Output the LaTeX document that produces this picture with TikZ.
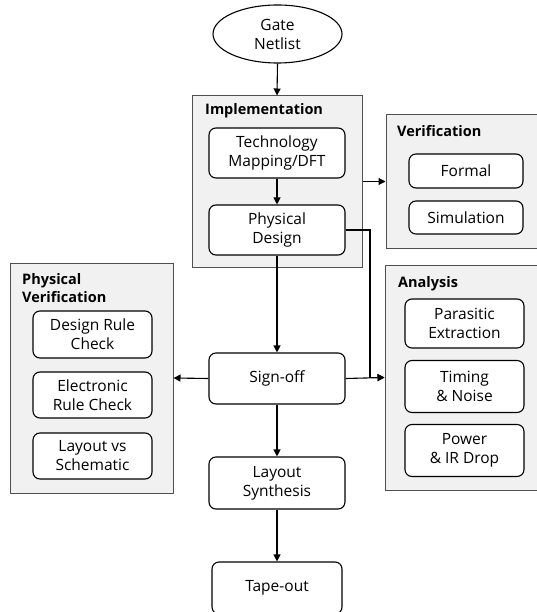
\documentclass[tikz,border=0pt]{standalone}
\usepackage{fontspec}
\setmainfont{Open Sans}
\usetikzlibrary{shapes.geometric,arrows.meta}
\definecolor{grpfill}{HTML}{F1F1F1}
\definecolor{grpline}{HTML}{505050}
\tikzset{
  box/.style={draw=black, line width=1.1pt, rounded corners=7pt, fill=white, align=center, inner sep=0pt, font=\fontsize{15.5}{19}\selectfont},
  grp/.style={draw=grpline, line width=1pt, fill=grpfill, inner sep=0pt},
  ttl/.style={anchor=base west, inner sep=0pt, align=left, font=\fontsize{14.5}{18}\selectfont\bfseries},
  conn/.style={line width=1.1pt, -{Triangle[length=7pt,width=7pt]}},
}
\begin{document}
\begin{tikzpicture}[x=1pt,y=-1pt]
\useasboundingbox (0,0) rectangle (537,612);
\clip (0,0) rectangle (537,612);
% groups
\node[grp, minimum width=170pt, minimum height=171pt] (impl) at (277,181.5) {};
\node[grp, minimum width=160pt, minimum height=133pt] (verif) at (466,181.5) {};
\node[grp, minimum width=160pt, minimum height=225pt] (anal) at (465,377.5) {};
\node[grp, minimum width=163pt, minimum height=230pt] (pv) at (91.5,378) {};
% titles
\node[ttl] (implt) at (205,115) {Implementation};
\node[ttl] (verift) at (397,137) {Verification};
\node[ttl] (analt) at (398,287) {Analysis};
\node[ttl] (pvt) at (22,302) {Physical\\Verification};
% main flow
\node[box, ellipse, rounded corners=0pt, minimum width=129pt, minimum height=58pt] (gate) at (277.5,34) {Gate\\Netlist};
\node[box, minimum width=136pt, minimum height=50pt] (tech) at (277,153) {Technology\\Mapping/DFT};
\node[box, minimum width=136pt, minimum height=50pt] (phys) at (277,230) {Physical\\Design};
\node[box, minimum width=136pt, minimum height=51pt] (sign) at (277,378.5) {Sign-off};
\node[box, minimum width=136pt, minimum height=52pt] (lay) at (277,483) {Layout\\Synthesis};
\node[box, minimum width=130pt, minimum height=52pt] (tape) at (277,588) {Tape-out};
% verification
\node[box, minimum width=114pt, minimum height=34pt] (formal) at (466,171) {Formal};
\node[box, minimum width=114pt, minimum height=33pt] (sim) at (466,217.5) {Simulation};
% analysis
\node[box, minimum width=119pt, minimum height=49pt] (para) at (464.5,323.5) {Parasitic\\Extraction};
\node[box, minimum width=119pt, minimum height=52pt] (timing) at (464.5,386.5) {Timing\\\& Noise};
\node[box, minimum width=119pt, minimum height=52pt] (power) at (464.5,450.5) {Power\\\& IR Drop};
% physical verification
\node[box, minimum width=119pt, minimum height=47pt] (drc) at (92.5,334.5) {Design Rule\\Check};
\node[box, minimum width=119pt, minimum height=46pt] (erc) at (92.5,395) {Electronic\\Rule Check};
\node[box, minimum width=119pt, minimum height=46pt] (lvs) at (92.5,456) {Layout vs\\Schematic};
% connectors
\coordinate (bend) at (370,230);
\draw[conn] (gate.south) -- (impl.north);
\draw[conn] (tech.south) -- (phys.north);
\draw[conn] (impl.east) -- (verif.west);
\draw[conn] (phys.south) -- (sign.north);
\draw[conn] (phys.east) -- (bend) |- (anal.west);
\draw[conn] (sign.east) -- (anal.west);
\draw[conn] (sign.west) -- (pv.east);
\draw[conn] (sign.south) -- (lay.north);
\draw[conn] (lay.south) -- (tape.north);
\end{tikzpicture}
\end{document}
